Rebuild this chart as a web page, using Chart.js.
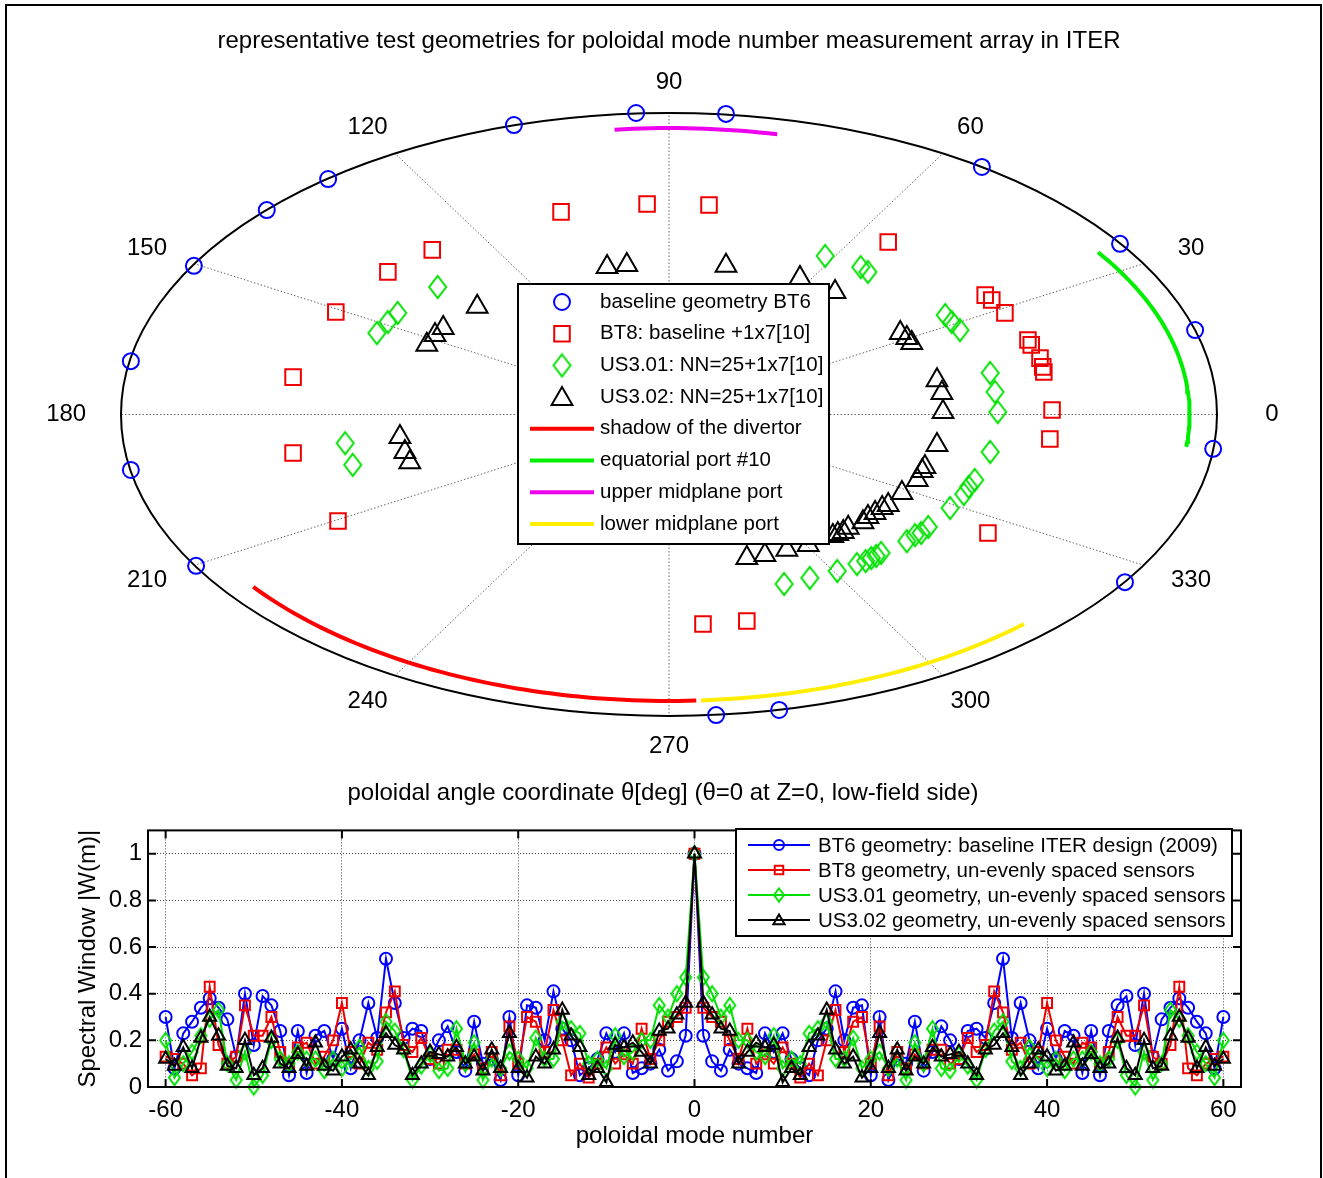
<!DOCTYPE html>
<html>
<head>
<meta charset="utf-8">
<title>ITER poloidal mode array geometries</title>
<script src="https://cdn.jsdelivr.net/npm/chart.js@4.4.1/dist/chart.umd.min.js"></script>
<style>
  html, body { margin: 0; padding: 0; background: #fff; }
  #page { position: relative; width: 1323px; height: 1178px; overflow: hidden; }
  #polar { position: absolute; left: 0; top: 0; }
  #spec { position: absolute; left: 0; top: 810px; }
  #frame { position: absolute; left: 5px; top: 4px; width: 1317px; height: 1180px; box-sizing: border-box;
           border: 2px solid #000; border-bottom: none; pointer-events: none; }
</style>
</head>
<body>
<div id="page">
  <canvas id="polar" width="1323" height="810"></canvas>
  <canvas id="spec" width="1323" height="368"></canvas>
  <div id="frame"></div>
</div>
<script>
const FONT = '"Liberation Sans", Arial, Helvetica, sans-serif';
Chart.defaults.font.family = FONT;
Chart.defaults.color = '#000';

// ---- sensor positions in the poloidal plane (x = r cos(theta), y = r sin(theta), outer contour r = 1) ----
const bt6X = [-0.060, 0.104, -0.283, -0.622, -0.734, -0.867, -0.982, -0.982, -0.863, 0.086, 0.201, 0.571, 0.823, 0.960, 0.993, 0.832];
const bt6Y = [1.000, 0.997, 0.960, 0.781, 0.678, 0.493, 0.177, -0.184, -0.502, -0.997, -0.980, 0.821, 0.566, 0.280, -0.114, -0.556];

const bt8X = [-0.197, -0.040, 0.073, 0.400, -0.432, -0.513, -0.608, -0.686, -0.686, -0.604, 0.062, 0.142, 0.582,
              0.577, 0.589, 0.613, 0.655, 0.661, 0.677, 0.682, 0.684, 0.699, 0.695];
const bt8Y = [0.672, 0.698, 0.695, 0.572, 0.546, 0.473, 0.340, 0.124, -0.128, -0.353, -0.695, -0.685, -0.393,
              0.396, 0.380, 0.337, 0.247, 0.231, 0.187, 0.158, 0.141, 0.015, -0.081];

const us301X = [-0.422, -0.495, -0.513, -0.533, -0.591, -0.577, 0.285, 0.350, 0.363, 0.504, 0.516, 0.531, 0.586, 0.595, 0.600,
                0.586, 0.558, 0.547, 0.538, 0.513, 0.473, 0.460, 0.449, 0.434, 0.387, 0.378, 0.369, 0.359, 0.343, 0.307, 0.257, 0.210];
const us301Y = [0.423, 0.337, 0.307, 0.270, -0.095, -0.167, 0.526, 0.489, 0.473, 0.330, 0.307, 0.280, 0.138, 0.075, 0.008,
                -0.124, -0.217, -0.240, -0.264, -0.310, -0.373, -0.393, -0.400, -0.420, -0.459, -0.469, -0.476, -0.486, -0.496, -0.519, -0.542, -0.562];

const us302X = [-0.113, -0.077, 0.104, 0.239, 0.303, 0.422, 0.434, 0.443, 0.489, 0.498, 0.500, 0.489, 0.467, 0.462, 0.453, 0.425,
                0.400, 0.389, 0.376, 0.363, 0.354, 0.327, 0.318, 0.308, 0.299, 0.254, 0.215, 0.175, 0.142,
                -0.350, -0.412, -0.427, -0.442, -0.491, -0.482, -0.473];
const us302Y = [0.489, 0.496, 0.493, 0.453, 0.406, 0.270, 0.254, 0.237, 0.114, 0.071, 0.008, -0.101, -0.174, -0.187, -0.217, -0.260,
                -0.300, -0.310, -0.327, -0.340, -0.357, -0.376, -0.390, -0.396, -0.403, -0.433, -0.449, -0.466, -0.476,
                0.357, 0.287, 0.264, 0.231, -0.075, -0.124, -0.158];

// port / divertor arcs (degrees) on r = arcRadius
const arcNames = ['shadow of the divertor', 'equatorial port #10', 'upper midplane port', 'lower midplane port'];
const arcFrom = [217, -6.5, 78, 273.5];
const arcTo = [273, 34.5, 96, 313];
const arcRadius = 0.95;

const polarAngles = [0, 30, 60, 90, 120, 150, 180, 210, 240, 270, 300, 330];
const markerNames = ['baseline geometry BT6', 'BT8: baseline +1x7[10]', 'US3.01: NN=25+1x7[10]', 'US3.02: NN=25+1x7[10]'];

// ---- spectral window |W(m)| for m = -60..60 ----
const modes = [];
for (let m = -60; m <= 60; m++) modes.push(m);

const bt6W = [
  0.30, 0.08, 0.23, 0.28, 0.34, 0.38, 0.34, 0.29, 0.13, 0.40, 0.18, 0.39, 0.35, 0.24, 0.05, 0.24, 0.06, 0.22, 0.24, 0.12,
  0.25, 0.08, 0.20, 0.36, 0.21, 0.55, 0.36, 0.21, 0.25, 0.24, 0.12, 0.20, 0.26, 0.15, 0.07, 0.28, 0.10, 0.12, 0.03, 0.30,
  0.05, 0.35, 0.34, 0.20, 0.41, 0.25, 0.20, 0.05, 0.08, 0.12, 0.23, 0.15, 0.23, 0.06, 0.08, 0.10, 0.16, 0.07, 0.11, 0.22,
  1.00,
  0.22, 0.11, 0.07, 0.16, 0.10, 0.08, 0.06, 0.23, 0.15, 0.23, 0.12, 0.08, 0.05, 0.20, 0.25, 0.41, 0.20, 0.34, 0.35, 0.05,
  0.30, 0.03, 0.12, 0.10, 0.28, 0.07, 0.15, 0.26, 0.20, 0.12, 0.24, 0.25, 0.21, 0.36, 0.55, 0.21, 0.36, 0.20, 0.08, 0.25,
  0.12, 0.24, 0.22, 0.06, 0.24, 0.05, 0.24, 0.35, 0.39, 0.18, 0.40, 0.13, 0.29, 0.34, 0.38, 0.34, 0.28, 0.23, 0.08, 0.30
];
const bt8W = [
  0.13, 0.12, 0.10, 0.05, 0.08, 0.43, 0.18, 0.10, 0.13, 0.35, 0.22, 0.22, 0.30, 0.15, 0.10, 0.17, 0.19, 0.10, 0.13, 0.20,
  0.36, 0.15, 0.10, 0.19, 0.16, 0.32, 0.41, 0.18, 0.15, 0.21, 0.12, 0.10, 0.16, 0.16, 0.10, 0.14, 0.08, 0.15, 0.05, 0.26,
  0.10, 0.30, 0.28, 0.15, 0.33, 0.20, 0.05, 0.10, 0.04, 0.10, 0.17, 0.10, 0.14, 0.10, 0.25, 0.12, 0.20, 0.28, 0.30, 0.34,
  1.00,
  0.34, 0.30, 0.28, 0.20, 0.12, 0.25, 0.10, 0.14, 0.10, 0.17, 0.10, 0.04, 0.10, 0.05, 0.20, 0.33, 0.15, 0.28, 0.30, 0.10,
  0.26, 0.05, 0.15, 0.08, 0.14, 0.10, 0.16, 0.16, 0.10, 0.12, 0.21, 0.15, 0.18, 0.41, 0.32, 0.16, 0.19, 0.10, 0.15, 0.36,
  0.20, 0.13, 0.10, 0.19, 0.17, 0.10, 0.15, 0.30, 0.22, 0.22, 0.35, 0.13, 0.10, 0.18, 0.43, 0.08, 0.05, 0.10, 0.12, 0.13
];
const us301W = [
  0.20, 0.04, 0.10, 0.15, 0.22, 0.29, 0.33, 0.10, 0.03, 0.15, 0.00, 0.05, 0.20, 0.12, 0.10, 0.15, 0.12, 0.12, 0.07, 0.12,
  0.08, 0.12, 0.17, 0.08, 0.11, 0.28, 0.24, 0.16, 0.03, 0.09, 0.14, 0.07, 0.08, 0.25, 0.10, 0.19, 0.03, 0.12, 0.08, 0.15,
  0.12, 0.08, 0.21, 0.12, 0.12, 0.28, 0.25, 0.23, 0.10, 0.12, 0.08, 0.22, 0.13, 0.15, 0.20, 0.20, 0.35, 0.30, 0.40, 0.47,
  1.00,
  0.47, 0.40, 0.30, 0.35, 0.20, 0.20, 0.15, 0.13, 0.22, 0.08, 0.12, 0.10, 0.23, 0.25, 0.28, 0.12, 0.12, 0.21, 0.08, 0.12,
  0.15, 0.08, 0.12, 0.03, 0.19, 0.10, 0.25, 0.08, 0.07, 0.14, 0.09, 0.03, 0.16, 0.24, 0.28, 0.11, 0.08, 0.17, 0.12, 0.08,
  0.12, 0.07, 0.12, 0.12, 0.15, 0.10, 0.12, 0.20, 0.05, 0.00, 0.15, 0.03, 0.10, 0.33, 0.29, 0.22, 0.15, 0.10, 0.04, 0.20
];
const us302W = [
  0.12, 0.09, 0.17, 0.08, 0.21, 0.30, 0.22, 0.09, 0.08, 0.20, 0.05, 0.08, 0.21, 0.10, 0.08, 0.14, 0.09, 0.19, 0.09, 0.07,
  0.13, 0.16, 0.10, 0.05, 0.17, 0.23, 0.18, 0.16, 0.05, 0.10, 0.15, 0.14, 0.13, 0.17, 0.10, 0.13, 0.07, 0.16, 0.08, 0.23,
  0.08, 0.04, 0.13, 0.10, 0.16, 0.33, 0.22, 0.17, 0.05, 0.08, 0.02, 0.18, 0.17, 0.19, 0.15, 0.10, 0.24, 0.25, 0.31, 0.36,
  1.00,
  0.36, 0.31, 0.25, 0.24, 0.10, 0.15, 0.19, 0.17, 0.18, 0.02, 0.08, 0.05, 0.17, 0.22, 0.33, 0.16, 0.10, 0.13, 0.04, 0.08,
  0.23, 0.08, 0.16, 0.07, 0.13, 0.10, 0.17, 0.13, 0.14, 0.15, 0.10, 0.05, 0.16, 0.18, 0.23, 0.17, 0.05, 0.10, 0.16, 0.13,
  0.07, 0.09, 0.19, 0.09, 0.14, 0.08, 0.10, 0.21, 0.08, 0.05, 0.20, 0.08, 0.09, 0.22, 0.30, 0.21, 0.08, 0.17, 0.09, 0.12
];
const specNames = ['BT6 geometry: baseline ITER design (2009)', 'BT8 geometry, un-evenly spaced sensors',
                   'US3.01 geometry, un-evenly spaced sensors', 'US3.02 geometry, un-evenly spaced sensors'];
const xTicks = [-60, -40, -20, 0, 20, 40, 60];

// ---- styles ----
const BLUE = '#0000ff', RED = '#ee0000', GREEN = '#00e000', BLACK = '#000000';
const markerColors = [BLUE, RED, GREEN, BLACK];
const markerStyles = ['circle', 'rect', 'rectRot', 'triangle'];
const polarRadii = [8, 11, 10, 12];
const specRadii = [6, 7, 7, 7.5];
const arcColors = ['#ff0000', '#00ee00', '#ee00ee', '#ffee00'];

// tall diamond like MATLAB's 'd' marker, as a canvas point style
function makeDiamond(w, h, color) {
  const c = document.createElement('canvas');
  c.width = w + 4; c.height = h + 4;
  const g = c.getContext('2d');
  g.strokeStyle = color;
  g.lineWidth = 2;
  g.beginPath();
  g.moveTo(c.width / 2, 2); g.lineTo(c.width - 2, c.height / 2);
  g.lineTo(c.width / 2, c.height - 2); g.lineTo(2, c.height / 2);
  g.closePath();
  g.stroke();
  return c;
}
const polarDiamond = makeDiamond(17, 22, GREEN);
const specDiamond = makeDiamond(11, 15, GREEN);
const legendDiamond = makeDiamond(10, 13, GREEN);

function drawMarker(ctx, style, x, y, r) {
  if (style instanceof HTMLCanvasElement) {
    ctx.drawImage(style, x - style.width / 2, y - style.height / 2);
    return;
  }
  ctx.beginPath();
  if (style === 'circle') {
    ctx.arc(x, y, r, 0, 2 * Math.PI);
  } else if (style === 'rect') {
    const s = r * Math.SQRT1_2;
    ctx.rect(x - s, y - s, 2 * s, 2 * s);
  } else {
    ctx.moveTo(x, y - r); ctx.lineTo(x + r * 0.866, y + r / 2); ctx.lineTo(x - r * 0.866, y + r / 2); ctx.closePath();
  }
  ctx.stroke();
}

function arcPoints(a0, a1) {
  const pts = [];
  const n = Math.ceil(Math.abs(a1 - a0));
  for (let i = 0; i <= n; i++) {
    const t = (a0 + (a1 - a0) * i / n) * Math.PI / 180;
    pts.push({ x: arcRadius * Math.cos(t), y: arcRadius * Math.sin(t) });
  }
  return pts;
}

const pairs = (xs, ys) => xs.map((v, i) => ({ x: v, y: ys[i] }));
const polarStyles = ['circle', 'rect', polarDiamond, 'triangle'];
const specStyles = ['circle', 'rect', specDiamond, 'triangle'];
const legendStyles = ['circle', 'rect', legendDiamond, 'triangle'];

// ---------- top: polar view ----------
const polarGrid = {
  id: 'polarGrid',
  beforeDatasetsDraw(chart) {
    const { ctx, scales: { x, y } } = chart;
    const cx = x.getPixelForValue(0), cy = y.getPixelForValue(0);
    ctx.save();
    ctx.strokeStyle = '#666';
    ctx.lineWidth = 1;
    ctx.setLineDash([1.5, 2]);
    polarAngles.forEach(a => {
      const t = a * Math.PI / 180;
      ctx.beginPath();
      ctx.moveTo(cx, cy);
      ctx.lineTo(x.getPixelForValue(Math.cos(t)), y.getPixelForValue(Math.sin(t)));
      ctx.stroke();
    });
    ctx.setLineDash([]);
    ctx.strokeStyle = '#000';
    ctx.lineWidth = 2;
    ctx.beginPath();
    ctx.ellipse(cx, cy, x.getPixelForValue(1) - cx, cy - y.getPixelForValue(1), 0, 0, 2 * Math.PI);
    ctx.stroke();

    ctx.fillStyle = '#000';
    ctx.textAlign = 'center';
    ctx.textBaseline = 'middle';
    ctx.font = '24px ' + FONT;
    polarAngles.forEach(a => {
      const t = a * Math.PI / 180;
      ctx.fillText(String(a), x.getPixelForValue(1.1 * Math.cos(t)), y.getPixelForValue(1.1 * Math.sin(t)));
    });
    ctx.fillText('representative test geometries for poloidal mode number measurement array in ITER', cx, 41);
    ctx.fillText('poloidal angle coordinate \u03B8[deg] (\u03B8=0 at Z=0, low-field side)', cx - 6, 793);
    ctx.restore();
  },
  afterDatasetsDraw(chart) {
    const ctx = chart.ctx;
    const box = { left: 518, top: 284, width: 311, height: 260 };
    ctx.save();
    ctx.fillStyle = '#fff';
    ctx.fillRect(box.left, box.top, box.width, box.height);
    ctx.strokeStyle = '#000';
    ctx.lineWidth = 2;
    ctx.strokeRect(box.left, box.top, box.width, box.height);
    ctx.font = '20.5px ' + FONT;
    ctx.textBaseline = 'middle';
    ctx.textAlign = 'left';
    const rowH = 31.7;
    markerNames.forEach((name, i) => {
      const yy = 302 + i * rowH;
      ctx.strokeStyle = markerColors[i];
      ctx.lineWidth = 2;
      drawMarker(ctx, polarStyles[i], 562, yy + (i === 3 ? 2 : 0), polarRadii[i]);
      ctx.fillStyle = '#000';
      ctx.fillText(name, 600, yy);
    });
    arcNames.forEach((name, i) => {
      const yy = 302 + (i + 4) * rowH;
      ctx.strokeStyle = arcColors[i];
      ctx.lineWidth = 4;
      ctx.beginPath();
      ctx.moveTo(530, yy);
      ctx.lineTo(594, yy);
      ctx.stroke();
      ctx.fillStyle = '#000';
      ctx.fillText(name, 600, yy);
    });
    ctx.restore();
  }
};

const arcSets = arcNames.map((name, i) => ({
  label: name,
  data: arcPoints(arcFrom[i], arcTo[i]),
  showLine: true,
  borderColor: arcColors[i],
  borderWidth: 4,
  pointRadius: 0,
  clip: false,
  order: 10
}));

const sensorSets = [[bt6X, bt6Y], [bt8X, bt8Y], [us301X, us301Y], [us302X, us302Y]].map((xy, i) => ({
  label: markerNames[i],
  data: pairs(xy[0], xy[1]),
  showLine: false,
  pointStyle: polarStyles[i],
  pointRadius: polarRadii[i],
  pointBorderWidth: 2,
  pointBorderColor: markerColors[i],
  pointBackgroundColor: 'rgba(0,0,0,0)',
  clip: false,
  order: 4 - i
}));

new Chart(document.getElementById('polar'), {
  type: 'scatter',
  data: { datasets: arcSets.concat(sensorSets) },
  options: {
    responsive: false,
    animation: false,
    layout: { padding: { left: 121, right: 106, top: 113, bottom: 94 } },
    scales: {
      x: { type: 'linear', min: -1, max: 1, display: false },
      y: { type: 'linear', min: -1, max: 1, display: false }
    },
    plugins: { legend: { display: false }, tooltip: { enabled: false } }
  },
  plugins: [polarGrid]
});

// ---------- bottom: spectral window ----------
const specFrame = {
  id: 'specFrame',
  afterDatasetsDraw(chart) {
    const { ctx, chartArea: a, scales: { x, y } } = chart;
    ctx.save();
    ctx.strokeStyle = '#000';
    ctx.lineWidth = 2;
    ctx.strokeRect(a.left, a.top, a.right - a.left, a.bottom - a.top);
    ctx.beginPath();
    x.ticks.forEach(t => {
      const px = x.getPixelForValue(t.value);
      ctx.moveTo(px, a.bottom); ctx.lineTo(px, a.bottom - 8);
      ctx.moveTo(px, a.top); ctx.lineTo(px, a.top + 8);
    });
    y.ticks.forEach(t => {
      const py = y.getPixelForValue(t.value);
      ctx.moveTo(a.left, py); ctx.lineTo(a.left + 8, py);
      ctx.moveTo(a.right, py); ctx.lineTo(a.right - 8, py);
    });
    ctx.stroke();

    ctx.fillStyle = '#000';
    ctx.textAlign = 'center';
    ctx.textBaseline = 'middle';
    ctx.font = '24px ' + FONT;
    ctx.fillText('poloidal mode number', x.getPixelForValue(0), 326);
    ctx.save();
    ctx.translate(88, (a.top + a.bottom) / 2);
    ctx.rotate(-Math.PI / 2);
    ctx.fillText('Spectral Window |W(m)|', 0, 0);
    ctx.restore();

    // legend
    const box = { left: 736, top: 19, width: 496, height: 107 };
    ctx.fillStyle = '#fff';
    ctx.fillRect(box.left, box.top, box.width, box.height);
    ctx.strokeStyle = '#000';
    ctx.lineWidth = 2;
    ctx.strokeRect(box.left, box.top, box.width, box.height);
    ctx.font = '20.5px ' + FONT;
    ctx.textAlign = 'left';
    specNames.forEach((name, i) => {
      const yy = 35 + i * 25;
      ctx.strokeStyle = markerColors[i];
      ctx.lineWidth = 2;
      ctx.beginPath();
      ctx.moveTo(748, yy); ctx.lineTo(810, yy);
      ctx.stroke();
      drawMarker(ctx, legendStyles[i], 779, yy + (i === 3 ? 1 : 0), specRadii[i] - 1);
      ctx.fillStyle = '#000';
      ctx.fillText(name, 818, yy + 1);
    });
    ctx.restore();
  }
};

const specSets = [bt6W, bt8W, us301W, us302W].map((vals, i) => ({
  label: specNames[i],
  data: modes.map((m, k) => ({ x: m, y: vals[k] })),
  borderColor: markerColors[i],
  borderWidth: 2,
  tension: 0,
  pointStyle: specStyles[i],
  pointRadius: specRadii[i],
  pointBorderWidth: 2,
  pointBorderColor: markerColors[i],
  pointBackgroundColor: 'rgba(0,0,0,0)',
  clip: false,
  order: 4 - i
}));

new Chart(document.getElementById('spec'), {
  type: 'line',
  data: { datasets: specSets },
  options: {
    responsive: false,
    animation: false,
    layout: { padding: { left: 0, right: 82, top: 10, bottom: 0 } },
    scales: {
      x: {
        type: 'linear', min: -62, max: 62,
        afterFit: s => { s.height = 91; },
        afterBuildTicks: s => { s.ticks = xTicks.map(v => ({ value: v })); },
        ticks: { padding: 9, font: { size: 24 }, maxRotation: 0, color: '#000' },
        grid: { color: '#444', lineWidth: 1, drawTicks: false },
        border: { display: false, dash: [1, 2] }
      },
      y: {
        type: 'linear', min: 0, max: 1.1,
        afterFit: s => { s.width = 148; },
        ticks: {
          stepSize: 0.2, includeBounds: false, padding: 6, font: { size: 24 }, color: '#000',
          callback: v => String(Math.round(v * 10) / 10)
        },
        grid: { color: '#444', lineWidth: 1, drawTicks: false },
        border: { display: false, dash: [1, 2] }
      }
    },
    plugins: { legend: { display: false }, tooltip: { enabled: false } }
  },
  plugins: [specFrame]
});
</script>
</body>
</html>
